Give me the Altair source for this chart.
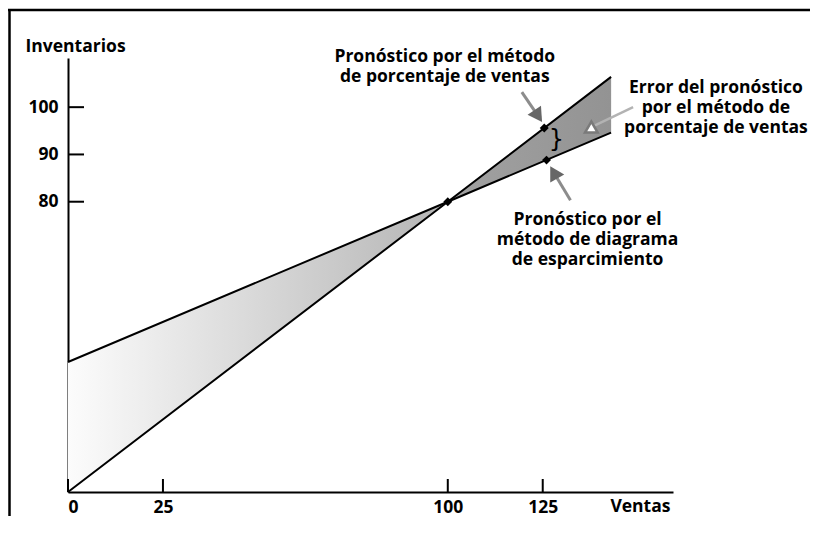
import altair as alt
import pandas as pd

# ---- data ----
ventas = [0, 100, 143]
pct_line = [18.6, 80, 106.4]        # percentage-of-sales forecast line
disp_line = [46.1, 80, 94.6]        # scatter-diagram forecast line

diamond_x = [100, 125.4, 126.0]
diamond_y = [80, 95.6, 88.8]

x_ticks = [0, 25, 100, 125]
y_ticks = [80, 90, 100]

X_DOMAIN = [0, 159.3]
Y_DOMAIN = [18.6, 110.4]

W, H = 605, 434
FONT = "Open Sans"
FS = 17.5

# arrows: start -> head centre, head angle
arrow_x = [119.5, 132.3]
arrow_y = [103.2, 80.3]
arrow_x2 = [123.8, 127.9]
arrow_y2 = [98.1, 86.2]
arrow_ang = [146, 330]

err_arrow = {"x": 148.8, "y": 100.0, "x2": 137.8, "y2": 95.8}

labels = [
    {"x": 99.2, "y": 109.5, "t": ["Pronóstico por el método", "de porcentaje de ventas"]},
    {"x": 170.6, "y": 103.1, "t": ["Error del pronóstico", "por el método de", "porcentaje de ventas"]},
    {"x": 136.8, "y": 75.0, "t": ["Pronóstico por el", "método de diagrama", "de esparcimiento"]},
]

xs = alt.Scale(domain=X_DOMAIN, nice=False, zero=False)
ys = alt.Scale(domain=Y_DOMAIN, nice=False, zero=False)

df = pd.DataFrame({"v": ventas, "a": pct_line, "b": disp_line})
left_df = df[df.v <= 100]
right_df = df[df.v >= 100]

x_axis = alt.Axis(values=x_ticks, title="Ventas", ticks=False, grid=False,
                  labelPadding=6, titleX=602, titleY=19, titleAlign="right",
                  titleBaseline="alphabetic", titleAngle=0)
y_axis = alt.Axis(values=y_ticks, title="Inventarios", ticks=False, grid=False,
                  labelPadding=10, titleX=-43, titleY=-7, titleAlign="left",
                  titleBaseline="alphabetic", titleAngle=0)

area_left = alt.Chart(left_df).mark_area(
    color=alt.Gradient(gradient="linear",
                       stops=[alt.GradientStop(color="#fcfcfc", offset=0),
                              alt.GradientStop(color="#b4b4b4", offset=1)],
                       x1=0, x2=1, y1=0, y2=0)
).encode(x=alt.X("v:Q", scale=xs, axis=x_axis),
         y=alt.Y("a:Q", scale=ys, axis=y_axis),
         y2="b:Q")

area_right = alt.Chart(right_df).mark_area(
    color=alt.Gradient(gradient="linear",
                       stops=[alt.GradientStop(color="#a2a2a2", offset=0),
                              alt.GradientStop(color="#939393", offset=1)],
                       x1=0, x2=1, y1=0, y2=0)
).encode(x=alt.X("v:Q", scale=xs), y=alt.Y("a:Q", scale=ys), y2="b:Q")

line_a = alt.Chart(df).mark_line(color="black", strokeWidth=2).encode(
    x=alt.X("v:Q", scale=xs), y=alt.Y("a:Q", scale=ys))
line_b = alt.Chart(df).mark_line(color="black", strokeWidth=2).encode(
    x=alt.X("v:Q", scale=xs), y=alt.Y("b:Q", scale=ys))

diamonds = alt.Chart(pd.DataFrame({"x": diamond_x, "y": diamond_y})).mark_point(
    shape="diamond", filled=True, color="black", size=80, opacity=1
).encode(x=alt.X("x:Q", scale=xs), y=alt.Y("y:Q", scale=ys))

ytick = alt.Chart(pd.DataFrame({"y": y_ticks})).mark_rule(color="black", strokeWidth=2).encode(
    y=alt.Y("y:Q", scale=ys), x=alt.value(0), x2=alt.value(16))
xtick = alt.Chart(pd.DataFrame({"x": x_ticks})).mark_rule(color="black", strokeWidth=2).encode(
    x=alt.X("x:Q", scale=xs), y=alt.value(H), y2=alt.value(H - 13))

arr_df = pd.DataFrame({"x": arrow_x, "y": arrow_y, "x2": arrow_x2, "y2": arrow_y2, "ang": arrow_ang})
shafts = alt.Chart(arr_df).mark_rule(color="#8c8c8c", strokeWidth=3).encode(
    x=alt.X("x:Q", scale=xs), y=alt.Y("y:Q", scale=ys), x2="x2:Q", y2="y2:Q")
heads = alt.Chart(arr_df).mark_point(shape="triangle-up", filled=True, color="#666666",
                                      size=260, opacity=1).encode(
    x=alt.X("x2:Q", scale=xs), y=alt.Y("y2:Q", scale=ys), angle=alt.Angle("ang:Q", scale=None))

err_df = pd.DataFrame([err_arrow])
err_shaft = alt.Chart(err_df).mark_rule(color="#b3b3b3", strokeWidth=2.5).encode(
    x=alt.X("x:Q", scale=xs), y=alt.Y("y:Q", scale=ys), x2="x2:Q", y2="y2:Q")
err_tri = alt.Chart(err_df).mark_point(shape="triangle-up", filled=True, fill="white",
                                        stroke="#7a7a7a", strokeWidth=2.5, size=160,
                                        opacity=1).encode(
    x=alt.X("x2:Q", scale=xs), y=alt.Y("y2:Q", scale=ys))

brace = alt.Chart(pd.DataFrame({"x": [128.6], "y": [93.0], "t": ["}"]})).mark_text(
    font="DejaVu Sans", fontSize=24, color="black", baseline="middle", align="center"
).encode(x=alt.X("x:Q", scale=xs), y=alt.Y("y:Q", scale=ys), text="t:N")

texts = alt.Chart(alt.Data(values=labels)).mark_text(
    font=FONT, fontWeight="bold", fontSize=FS, lineHeight=20, color="black",
    align="center", baseline="alphabetic"
).encode(x=alt.X("x:Q", scale=xs), y=alt.Y("y:Q", scale=ys), text="t:N")

frame_top = alt.Chart(alt.Data(values=[{}])).mark_rule(color="black", strokeWidth=2.5).encode(
    x=alt.value(-60), x2=alt.value(742), y=alt.value(-48))
frame_left = alt.Chart(alt.Data(values=[{}])).mark_rule(color="black", strokeWidth=2.5).encode(
    x=alt.value(-58.5), y=alt.value(-49), y2=alt.value(470))

chart = alt.layer(
    area_left, area_right, line_a, line_b, diamonds, ytick, xtick,
    err_shaft, err_tri, shafts, heads, brace, texts, frame_top, frame_left
).properties(
    width=W, height=H,
    autosize=alt.AutoSizeParams(type="none"),
    padding={"left": 60, "top": 50, "right": 137, "bottom": 24},
).configure_view(stroke=None).configure_axis(
    domainColor="black", domainWidth=2,
    labelFont=FONT, labelFontWeight="bold", labelFontSize=FS, labelColor="black",
    titleFont=FONT, titleFontWeight="bold", titleFontSize=FS, titleColor="black",
)

chart.save("out.html", embed_options={"renderer": "svg", "actions": False})
